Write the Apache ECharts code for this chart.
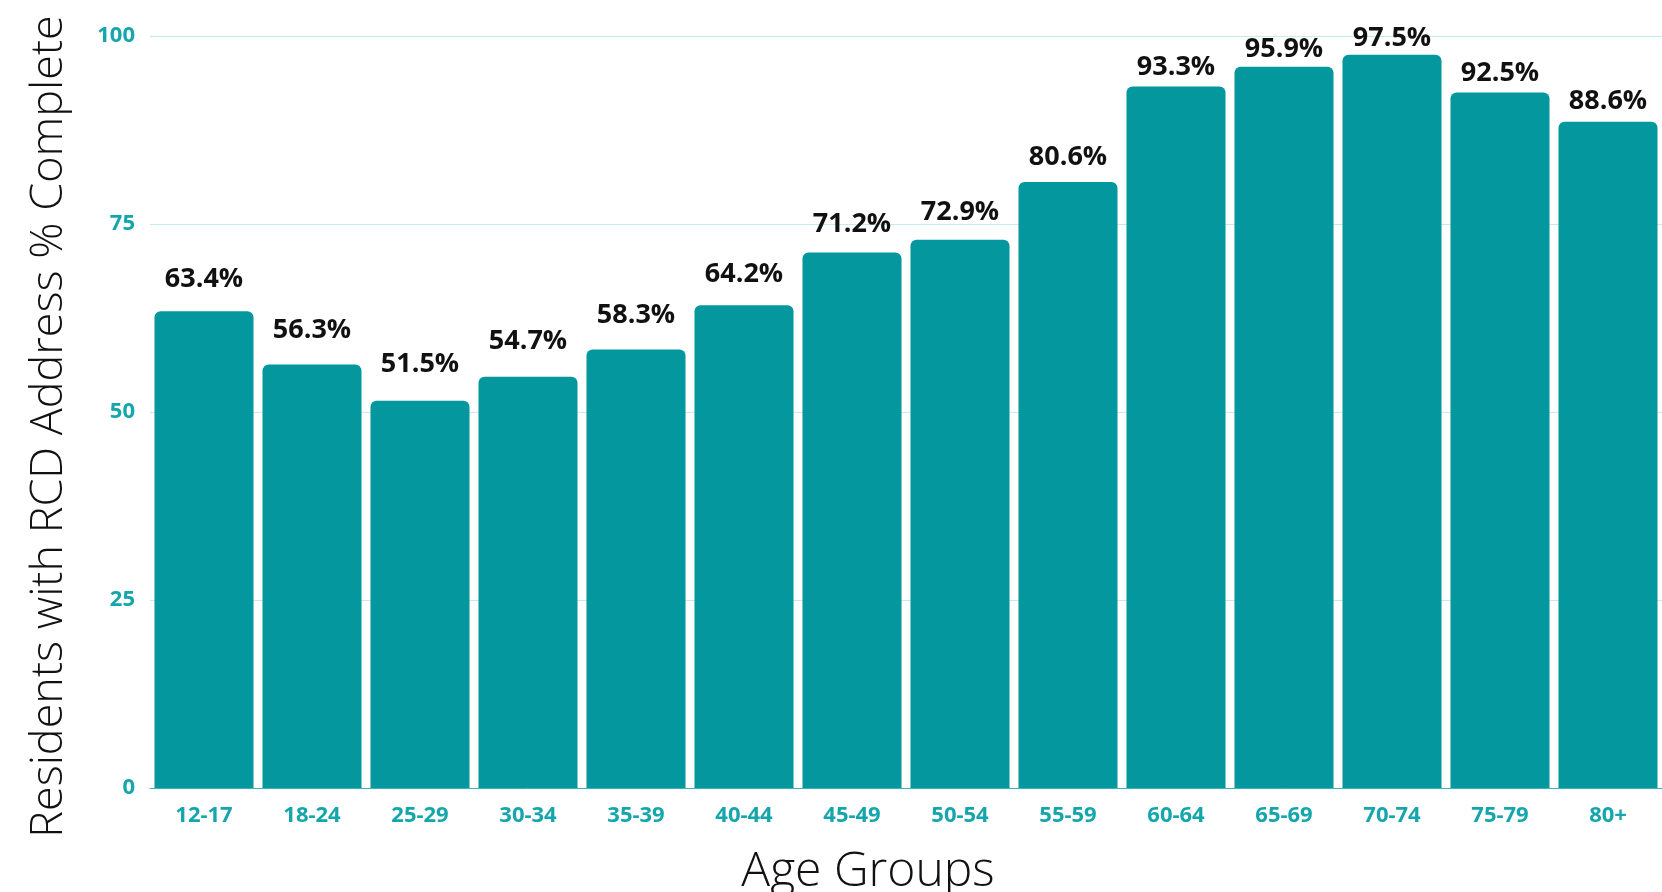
<!DOCTYPE html>
<html>
<head>
<meta charset="utf-8">
<script src="https://cdn.jsdelivr.net/npm/echarts@6/dist/echarts.min.js"></script>
<style>
html,body{margin:0;padding:0;background:#fff;overflow:hidden;}
#chart{width:1662px;height:892px;}
</style>
</head>
<body>
<div id="chart"></div>
<script>
const categories = ['12-17','18-24','25-29','30-34','35-39','40-44','45-49','50-54','55-59','60-64','65-69','70-74','75-79','80+'];
const values = [63.4, 56.3, 51.5, 54.7, 58.3, 64.2, 71.2, 72.9, 80.6, 93.3, 95.9, 97.5, 92.5, 88.6];
const yTicks = [0, 25, 50, 75, 100];

const teal = '#04989E';
const labelTeal = '#14A6AC';

// label gap above bar shrinks as bars get taller (as in the reference)
function labelDistance(v) { return Math.max(3, 23 - 0.43 * (v - 52)); }

const chart = echarts.init(document.getElementById('chart'));
chart.setOption({
  animation: false,
  grid: { left: 150, right: 0, top: 36, bottom: 104, containLabel: false, outerBoundsMode: 'none' },
  xAxis: {
    type: 'category',
    data: categories,
    name: 'Age Groups',
    nameLocation: 'middle',
    nameGap: 60,
    nameTextStyle: { fontFamily: 'Open Sans', fontWeight: 300, fontSize: 48, color: '#111', padding: [0, 76, 0, 0] },
    axisLine: { lineStyle: { color: '#3AB2B7', width: 1 } },
    axisTick: { show: false },
    axisLabel: { color: labelTeal, fontFamily: 'Open Sans', fontWeight: 'bold', fontSize: 22, margin: 17 }
  },
  yAxis: {
    type: 'value',
    min: yTicks[0],
    max: yTicks[yTicks.length - 1],
    interval: 25,
    name: 'Residents with RCD Address % Complete',
    nameLocation: 'middle',
    nameGap: 78,
    nameTextStyle: { fontFamily: 'Open Sans', fontWeight: 300, fontSize: 45, color: '#111', padding: [0, 29, 0, 0] },
    axisLine: { show: false },
    axisTick: { show: false },
    splitLine: { lineStyle: { color: '#C4EBED', width: 1 } },
    axisLabel: { color: labelTeal, fontFamily: 'Open Sans', fontWeight: 'bold', fontSize: 22, margin: 15 }
  },
  series: [{
    type: 'bar',
    data: values.map(v => ({ value: v, label: { distance: labelDistance(v) } })),
    barCategoryGap: '8.3%',
    itemStyle: { color: teal, borderRadius: [6, 6, 0, 0] },
    label: {
      show: true,
      position: 'top',
      formatter: p => p.value.toFixed(1) + '%',
      color: '#111',
      fontFamily: 'Open Sans',
      fontWeight: 'bold',
      fontSize: 27
    }
  }]
});
</script>
</body>
</html>
